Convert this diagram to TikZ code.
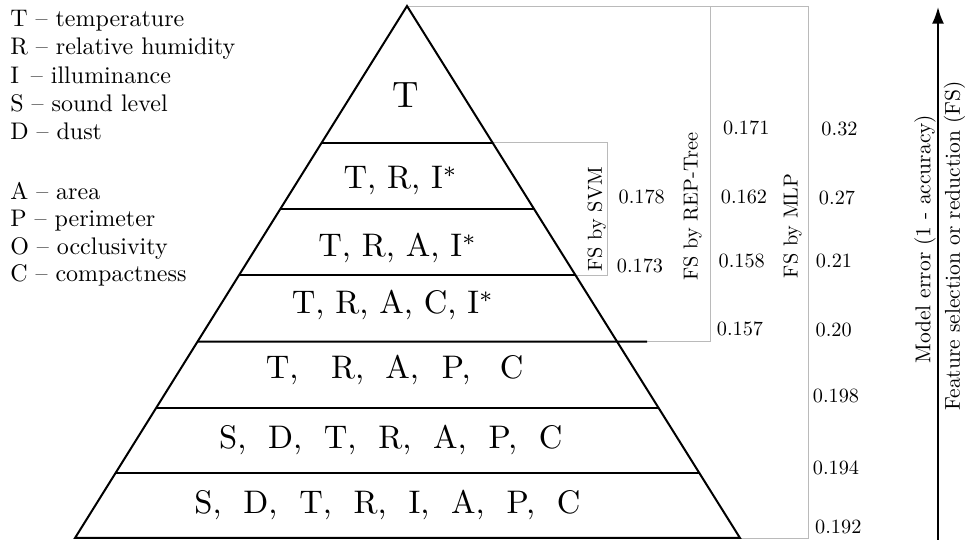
\documentclass[tikz,border=0pt]{standalone}
\usetikzlibrary{arrows.meta,calc}
\newcommand{\txs}[2]{\scalebox{#1}{\fontsize{10}{12}\selectfont #2}}
\begin{document}
\begin{tikzpicture}[x=0.75pt,y=-0.75pt,
  pyr/.style={line width=1.5pt},
  graybox/.style={draw=black!27, line width=0.6pt},
  lbl/.style={anchor=base, inner sep=0pt},
  num/.style={inner sep=0pt},
  leg/.style={anchor=base west, inner sep=0pt},
  vlab/.style={rotate=90, inner sep=0pt},
  axlab/.style={rotate=90, inner sep=0pt}]
\useasboundingbox (0,0) rectangle (965,541);

% pyramid corners
\coordinate (apex) at (407,6);
\coordinate (bl) at (75,538);
\coordinate (br) at (740,538);

% gray brackets
\draw[graybox] (492.6,142.7) -- (607.3,142.7) -- (607.3,275.3) -- (575.6,275.3);
\draw[graybox] (647,341.7) -- (710.7,341.7) -- (710.7,6) -- (apex);
\draw[graybox] (apex) -- (808,6) -- (808,538) -- (br);

% pyramid
\draw[pyr] (apex) -- (bl) -- (br) -- cycle;
\foreach \yy in {142.7,209,275.3,407.7,473.3}{
  \draw[pyr] ($(apex)!{(\yy-6)/532}!(bl)$) -- ($(apex)!{(\yy-6)/532}!(br)$);
}
\draw[pyr] ($(apex)!{(341.7-6)/532}!(bl)$) -- (647,341.7);

% layer labels
\node[lbl] (l0) at (406,108) {\txs{2.75}{T}};
\node[lbl] (l1) at (400.8,189) {\txs{2.45}{T, R, I$^*$}};
\node[lbl] (l2) at (397.8,257) {\txs{2.45}{T, R, A, I$^*$}};
\node[lbl] (l3) at (393,314) {\txs{2.45}{T, R, A, C, I$^*$}};
\node[lbl] (l4) at (394.7,379) {\txs{2.45}{T,\hspace{1em}R,\hspace{0.65em}A,\hspace{0.7em}P,\hspace{0.9em}C}};
\node[lbl] (l5) at (390.8,448.3) {\txs{2.45}{S,\ \ D,\ \ T,\ \ R,\ \ A,\ \ P,\ \ C}};
\node[lbl] (l6) at (387.5,513.3) {\txs{2.45}{S,\ \ D,\ \ T,\ \ R,\ \ I,\ \ A,\ \ P,\ \ C}};

% legend
\node[leg] (gT) at (10,26.7) {\txs{1.8}{T -- temperature}};
\node[leg] (gR) at (10,54.9) {\txs{1.8}{R -- relative humidity}};
\node[leg] (gI) at (10,83.1) {\txs{1.8}{I\ \,-- illuminance}};
\node[leg] (gS) at (10,111.3) {\txs{1.8}{S -- sound level}};
\node[leg] (gD) at (10,139.5) {\txs{1.8}{D -- dust}};
\node[leg] (gA) at (10,199.5) {\txs{1.8}{A -- area}};
\node[leg] (gP) at (10,227) {\txs{1.8}{P -- perimeter}};
\node[leg] (gO) at (10,254.3) {\txs{1.8}{O -- occlusivity}};
\node[leg] (gC) at (10,281.7) {\txs{1.8}{C -- compactness}};

% bracket labels
\node[vlab] (svm) at (596.7,219.2) {\txs{1.52}{FS by SVM}};
\node[vlab] (rep) at (692.5,206.7) {\txs{1.52}{FS by REP-Tree}};
\node[vlab] (mlp) at (792.5,225.8) {\txs{1.52}{FS by MLP}};

% numbers
\node[num] (n1) at (641.7,196.7) {\txs{1.52}{0.178}};
\node[num] (n2) at (640,265.7) {\txs{1.52}{0.173}};
\node[num] (n3) at (746.3,128.3) {\txs{1.52}{0.171}};
\node[num] (n4) at (744,197) {\txs{1.52}{0.162}};
\node[num] (n5) at (741.7,261) {\txs{1.52}{0.158}};
\node[num] (n6) at (740,329.3) {\txs{1.52}{0.157}};
\node[num] (n7) at (839.5,129.3) {\txs{1.52}{0.32}};
\node[num] (n8) at (837,198) {\txs{1.52}{0.27}};
\node[num] (n9) at (834,261) {\txs{1.52}{0.21}};
\node[num] (n10) at (833.7,330) {\txs{1.52}{0.20}};
\node[num] (n11) at (836,396) {\txs{1.52}{0.198}};
\node[num] (n12) at (836,468.3) {\txs{1.52}{0.194}};
\node[num] (n13) at (838.3,527.3) {\txs{1.52}{0.192}};

% axis arrow
\coordinate (ab) at (938,540);
\coordinate (at) at (938,7);
\draw[line width=1.5pt, -{Latex[length=12.5pt,width=9pt]}] (ab) -- (at);
\node[axlab] (ax1) at (925,239.2) {\txs{1.61}{Model error (1 - accuracy)}};
\node[axlab] (ax2) at (954.5,245.8) {\txs{1.61}{Feature selection or reduction (FS)}};
\end{tikzpicture}
\end{document}
